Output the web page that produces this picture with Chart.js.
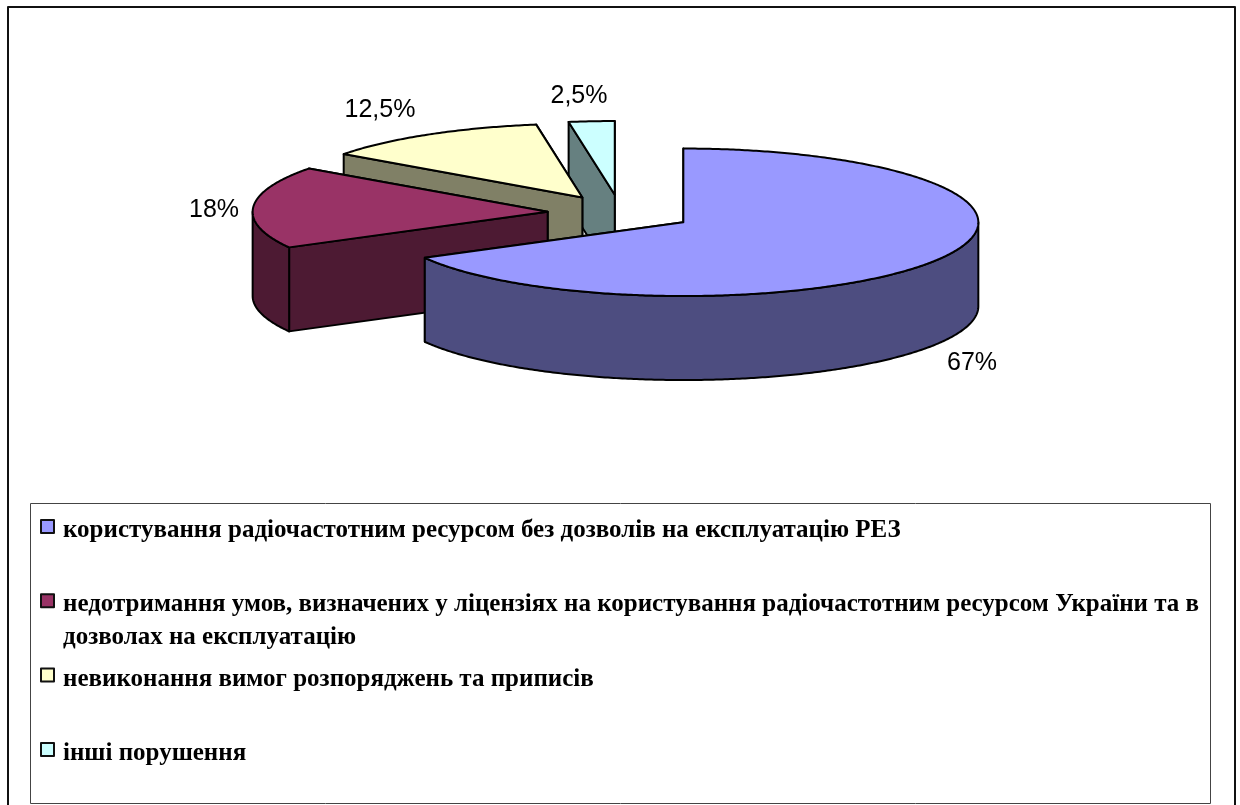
<!DOCTYPE html>
<html lang="uk">
<head>
<meta charset="utf-8">
<title>Порушення</title>
<script src="https://cdn.jsdelivr.net/npm/chart.js@4"></script>
<style>
    html, body { margin: 0; padding: 0; background: #fff; overflow: hidden; }
    canvas { display: block; }
</style>
</head>
<body>
<canvas id="graphique" width="1240" height="805"></canvas>
<script>
    // DATA
    const categories = [
        "користування радіочастотним ресурсом без дозволів на експлуатацію РЕЗ",
        "недотримання умов, визначених у ліцензіях на користування радіочастотним ресурсом України та в дозволах на експлуатацію",
        "невиконання вимог розпоряджень та приписів",
        "інші порушення"
    ];
    const values = [67, 18, 12.5, 2.5];

    // STYLES
    const topColors = ["#9999FF", "#993366", "#FFFFCC", "#CCFFFF"];
    const wallColors = ["#4D4D80", "#4D1A33", "#808066", "#668080"];
    const labelSpots = [[972, 370], [214, 217], [380, 117], [579, 103]]; // centre x, baseline y
    const tilt = 0.25;      // flattening of the pie
    const depth = 84;       // wall height
    const explode = 73;     // slice pull-out
    const pieRadius = 295;

    // point on a slice, on screen (angle in canvas radians, drop = how far down the wall)
    function slicePoint(arc, angle, radius, drop) {
        const mid = (arc.startAngle + arc.endAngle) / 2;
        const x = arc.x + Math.cos(mid) * explode + Math.cos(angle) * radius;
        const y = Math.sin(mid) * explode + Math.sin(angle) * radius;
        return [x, arc.y + y * tilt + drop];
    }

    function traceRim(ctx, arc, from, to, drop) {
        const steps = Math.max(2, Math.ceil(Math.abs(to - from) / 0.01));
        for (let i = 0; i <= steps; i++) {
            const p = slicePoint(arc, from + (to - from) * i / steps, arc.outerRadius, drop);
            ctx.lineTo(p[0], p[1]);
        }
    }

    function paintPath(ctx, fill) {
        ctx.closePath();
        if (fill) {
            ctx.fillStyle = fill;
            ctx.fill();
        }
        ctx.stroke();
    }

    function drawRadialWall(ctx, arc, angle, color) {
        const apex = slicePoint(arc, angle, 0, 0);
        const rim = slicePoint(arc, angle, arc.outerRadius, 0);
        ctx.beginPath();
        ctx.moveTo(apex[0], apex[1]);
        ctx.lineTo(rim[0], rim[1]);
        ctx.lineTo(rim[0], rim[1] + depth);
        ctx.lineTo(apex[0], apex[1] + depth);
        paintPath(ctx, color);
    }

    function drawSlice(ctx, arc, index) {
        const start = arc.startAngle;
        const end = arc.endAngle;
        const mid = (start + end) / 2;

        ctx.strokeStyle = "#000";
        ctx.lineWidth = 2;
        ctx.lineJoin = "round";

        // RADIAL WALLS, THE ONE AT THE BACK FIRST
        [start, end]
            .sort((a, b) => Math.sin(a) - Math.sin(b))
            .forEach(angle => drawRadialWall(ctx, arc, angle, wallColors[index]));

        // OUTER WALL, ONLY THE PART FACING THE VIEWER
        const from = Math.max(start, 0);
        const to = Math.min(end, Math.PI);
        if (to > from) {
            ctx.beginPath();
            traceRim(ctx, arc, from, to, 0);
            traceRim(ctx, arc, to, from, depth);
            paintPath(ctx, wallColors[index]);
        }

        // TOP, DRAWN BY THE ARC ELEMENT ITSELF
        ctx.save();
        ctx.translate(arc.x, arc.y);
        ctx.scale(1, tilt);
        ctx.translate(-arc.x, -arc.y);
        ctx.translate(Math.cos(mid) * explode, Math.sin(mid) * explode);
        arc.draw(ctx);
        ctx.restore();

        const apex = slicePoint(arc, start, 0, 0);
        ctx.beginPath();
        ctx.moveTo(apex[0], apex[1]);
        traceRim(ctx, arc, start, end, 0);
        paintPath(ctx, null);
    }

    function wrapText(ctx, text, maxWidth) {
        const lines = [];
        let line = "";
        text.split(" ").forEach(word => {
            const test = line ? line + " " + word : word;
            if (ctx.measureText(test).width > maxWidth) {
                lines.push(line);
                line = word;
            } else {
                line = test;
            }
        });
        lines.push(line);
        return lines;
    }

    function drawLegend(ctx) {
        ctx.strokeStyle = "#444";
        ctx.lineWidth = 1;
        ctx.strokeRect(30.5, 503.5, 1180, 300);

        ctx.font = "bold 25px 'Liberation Serif'";
        ctx.textAlign = "left";
        ctx.textBaseline = "alphabetic";
        categories.forEach((name, i) => {
            const top = 519 + 74.3 * i;
            ctx.fillStyle = topColors[i];
            ctx.strokeStyle = "#111";
            ctx.lineWidth = 2;
            ctx.fillRect(41, top + 1, 13, 13);
            ctx.strokeRect(41, top + 1, 13, 13);

            ctx.fillStyle = "#000";
            wrapText(ctx, name, 1146).forEach((line, n) => {
                ctx.fillText(line, 63, top + 18 + n * 33);
            });
        });
    }

    function drawLabels(ctx) {
        ctx.font = "25px 'Liberation Sans'";
        ctx.fillStyle = "#000";
        ctx.textAlign = "center";
        ctx.textBaseline = "alphabetic";
        values.forEach((value, i) => {
            const text = String(value).replace(".", ",") + "%";
            ctx.fillText(text, labelSpots[i][0], labelSpots[i][1]);
        });
    }

    // PLUGIN: TURNS THE FLAT PIE INTO THE 3D EXPLODED ONE
    const pie3d = {
        id: "pie3d",
        beforeDatasetsDraw(chart) {
            const ctx = chart.ctx;
            const arcs = chart.getDatasetMeta(0).data;
            // back slices first
            for (let i = arcs.length - 1; i >= 0; i--) {
                drawSlice(ctx, arcs[i], i);
            }
            return false;
        },
        afterDraw(chart) {
            const ctx = chart.ctx;
            ctx.save();
            drawLabels(ctx);
            drawLegend(ctx);
            // outer frame, the bottom edge is cut off by the picture
            ctx.strokeStyle = "#111";
            ctx.lineWidth = 2;
            ctx.strokeRect(8, 7, 1227, 900);
            ctx.restore();
        }
    };

    new Chart(document.getElementById("graphique").getContext("2d"), {
        type: "pie",
        data: {
            labels: categories,
            datasets: [{
                data: values,
                backgroundColor: topColors,
                borderWidth: 0
            }]
        },
        options: {
            responsive: false,
            animation: false,
            radius: pieRadius,
            layout: { padding: { left: 1, bottom: 379 } },
            plugins: {
                legend: { display: false },
                tooltip: { enabled: false }
            }
        },
        plugins: [pie3d]
    });
</script>
</body>
</html>
